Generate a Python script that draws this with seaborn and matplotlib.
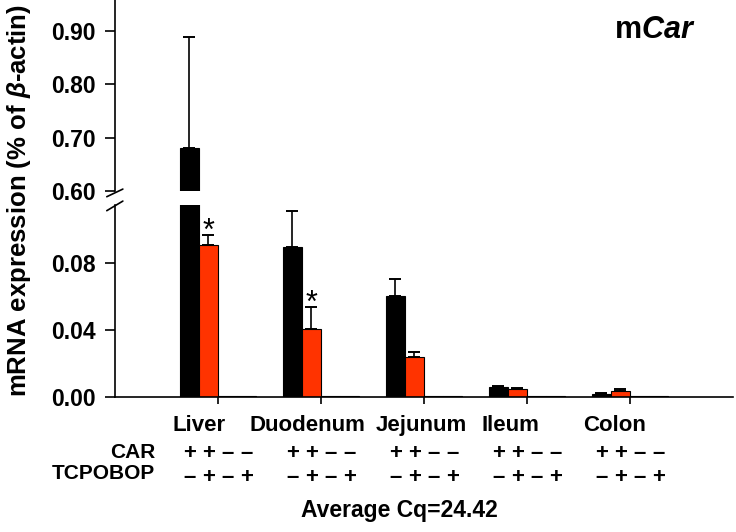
import numpy as np
import pandas as pd
import seaborn as sns
import matplotlib.pyplot as plt
from matplotlib.transforms import blended_transform_factory

# datos
tissues = ["Liver", "Duodenum", "Jejunum", "Ileum", "Colon"]
groups = ["CAR+/TCPOBOP-", "CAR+/TCPOBOP+", "CAR-/TCPOBOP-", "CAR-/TCPOBOP+"]
car_sign = ["+", "+", "\u2013", "\u2013"]
tcpobop_sign = ["\u2013", "+", "\u2013", "+"]

wt_vehicle = [0.681, 0.0897, 0.0603, 0.0058, 0.0020]
wt_vehicle_se = [0.207, 0.0213, 0.0103, 0.0010, 0.0004]
wt_tcpobop = [0.0907, 0.0406, 0.0237, 0.0046, 0.0036]
wt_tcpobop_se = [0.0060, 0.0133, 0.0033, 0.0005, 0.0013]
ko_vehicle = [0.0005, 0.0005, 0.0005, 0.0005, 0.0005]
ko_tcpobop = [0.0005, 0.0005, 0.0005, 0.0005, 0.0005]
significant = [True, True, False, False, False]
label_offset = [-0.18, -0.13, -0.03, -0.16, -0.15]

means = [wt_vehicle, wt_tcpobop, ko_vehicle, ko_tcpobop]
ses = [wt_vehicle_se, wt_tcpobop_se, None, None]
colors = ["#000000", "#FF3300", "#000000", "#000000"]

df = pd.DataFrame({
    "tissue": tissues * 4,
    "group": [g for g in groups for _ in tissues],
    "value": wt_vehicle + wt_tcpobop + ko_vehicle + ko_tcpobop,
})

sns.set_style("ticks")
plt.rcParams["font.family"] = ["Liberation Sans", "DejaVu Sans"]
plt.rcParams["font.weight"] = "bold"
plt.rcParams["mathtext.fontset"] = "custom"
plt.rcParams["mathtext.rm"] = "Liberation Sans:bold"
plt.rcParams["mathtext.it"] = "Liberation Sans:italic:bold"
plt.rcParams["mathtext.bf"] = "Liberation Sans:bold"
for k in ["text.color", "axes.labelcolor", "xtick.color", "ytick.color", "axes.edgecolor"]:
    plt.rcParams[k] = "black"

fig = plt.figure(figsize=(7.36, 5.32), dpi=100)
ax_top = fig.add_axes([0.156, 0.641, 0.84, 0.359])
ax_bot = fig.add_axes([0.156, 0.2538, 0.84, 0.361])


def draw(ax):
    sns.barplot(data=df, x="tissue", y="value", hue="group", order=tissues,
                hue_order=groups, palette=colors, width=0.74, errorbar=None,
                edgecolor="black", linewidth=0.8, saturation=1, legend=False, ax=ax)
    bars = list(ax.containers)
    for cont, m, e in zip(bars, means, ses):
        if e is None:
            continue
        xs = [p.get_x() + p.get_width() / 2 for p in cont]
        ax.errorbar(xs, m, yerr=[np.zeros(len(e)), e], fmt="none", ecolor="black",
                    elinewidth=1.2, capsize=4, capthick=1.4)
    ax.set_xlim(-1, 5)
    ax.set_xlabel("")
    ax.set_ylabel("")
    for s in ["top", "right"]:
        ax.spines[s].set_visible(False)
    ax.spines["left"].set_linewidth(1.2)
    ax.spines["bottom"].set_linewidth(1.2)
    ax.tick_params(axis="y", labelsize=16.5, length=7, width=1.2, pad=7)
    return bars


draw(ax_top)
bars = draw(ax_bot)

ax_top.set_ylim(0.60, 0.958)
ax_top.set_yticks([0.60, 0.70, 0.80, 0.90])
ax_top.set_yticklabels(["0.60", "0.70", "0.80", "0.90"])
ax_top.spines["bottom"].set_visible(False)
ax_top.tick_params(axis="x", bottom=False, labelbottom=False)

ax_bot.set_ylim(0, 0.1146)
ax_bot.set_yticks([0.00, 0.04, 0.08])
ax_bot.set_yticklabels(["0.00", "0.04", "0.08"])
ax_bot.tick_params(axis="x", length=5, width=1.2, labelbottom=False)

# asteriscos
for p, m, e, sig in zip(bars[1], wt_tcpobop, wt_tcpobop_se, significant):
    if sig:
        ax_bot.text(p.get_x() + p.get_width() / 2, m + e - 0.003, "*",
                    ha="center", va="baseline", fontsize=22, fontweight="normal")

# marcas de corte en el eje
kw = dict(color="black", lw=1.2, clip_on=False)
ax_top.plot([-0.013, 0.013], [-0.03, 0.01], transform=ax_top.transAxes, **kw)
ax_bot.plot([-0.013, 0.013], [0.97, 1.02], transform=ax_bot.transAxes, **kw)

# etiquetas bajo el eje
tr = blended_transform_factory(ax_bot.transData, fig.transFigure)
for i, t in enumerate(tissues):
    ax_bot.text(i + label_offset[i], 0.19, t, transform=tr, ha="center",
                va="baseline", fontsize=16)
for j, cont in enumerate(bars):
    for p in cont:
        xc = p.get_x() + p.get_width() / 2
        ax_bot.text(xc, 0.168, car_sign[j] + "\n" + tcpobop_sign[j], transform=tr,
                    ha="center", va="top", fontsize=16, linespacing=1.18)
fig.text(0.2106, 0.168, "CAR\nTCPOBOP", ha="right", va="top", fontsize=15,
         linespacing=1.15, multialignment="right")
fig.text(0.543, 0.028, "Average Cq=24.42", ha="center", va="baseline", fontsize=16.5)

fig.text(0.026, 0.624, r"mRNA expression (% of $\beta$-actin)", rotation=90,
         ha="center", va="center", fontsize=18.5)
fig.text(0.89, 0.944, r"m$\mathit{Car}$", ha="center", va="center", fontsize=22)

fig.savefig("out.png", dpi=100)
